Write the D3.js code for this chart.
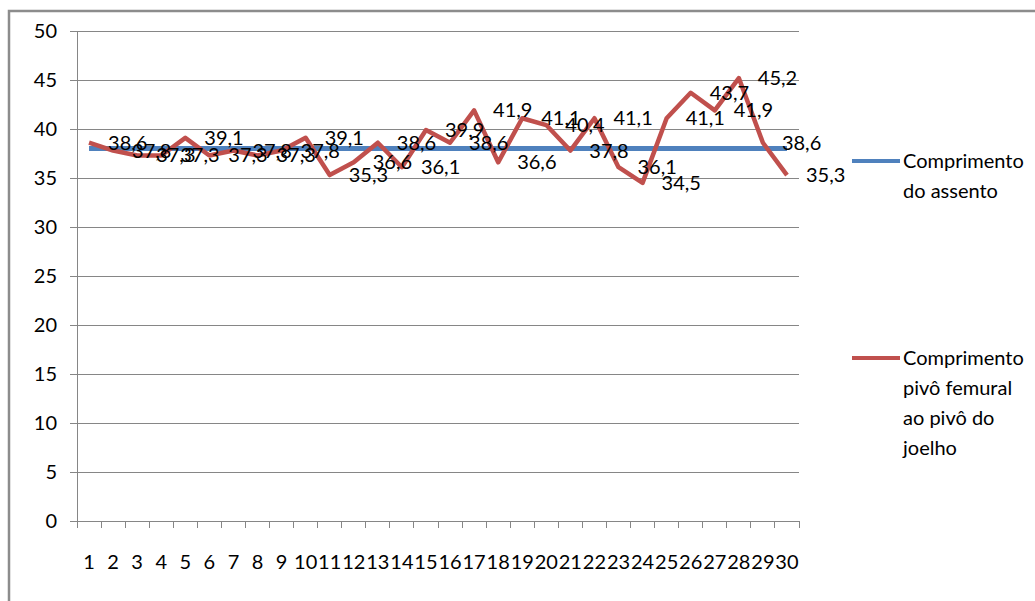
<!DOCTYPE html>
<html><head><meta charset="utf-8">
<script src="https://cdn.jsdelivr.net/npm/d3@7"></script>
<style>body{margin:0;background:#fff}svg{display:block}</style>
</head><body>
<script>
const categories = d3.range(1, 31).map(String);
const seriesNames = ["Comprimento do assento", "Comprimento pivô femural ao pivô do joelho"];
const assento = [38,38,38,38,38,38,38,38,38,38,38,38,38,38,38,38,38,38,38,38,38,38,38,38,38,38,38,38,38,38];
const femural = [38.6,37.8,37.3,37.3,39.1,37.3,37.8,37.3,37.8,39.1,35.3,36.6,38.6,36.1,39.9,38.6,41.9,36.6,41.1,40.4,37.8,41.1,36.1,34.5,41.1,43.7,41.9,45.2,38.6,35.3];
const yTicks = [0,5,10,15,20,25,30,35,40,45,50];
const legendLines = [["Comprimento","do assento"],["Comprimento","pivô femural","ao pivô do","joelho"]];
const colors = ["#4F81BD", "#C0504D"];

(function () {
const W = 1035, H = 601;
const svg = d3.select("body").append("svg").attr("width", W).attr("height", H);
const font = "Lato, 'Open Sans', sans-serif";

// outer border
svg.append("path").attr("d", `M9,${H} V11 H${W}`).attr("fill","none").attr("stroke","#8c8c8c").attr("stroke-width",2.5);

const pl = 77, pr = 799, pt = 31, pb = 521;
const x = d3.scaleBand().domain(categories).range([pl, pr]).padding(0);
const y = d3.scaleLinear().domain([0, 50]).range([pb, pt]);

// gridlines
svg.append("g").selectAll("line").data(yTicks.filter(d => d > 0)).join("line")
  .attr("x1", pl).attr("x2", pr).attr("y1", d => y(d)).attr("y2", d => y(d))
  .attr("stroke", "#868686").attr("stroke-width", 1).attr("shape-rendering","crispEdges");

// y axis
const ya = svg.append("g").attr("transform", `translate(${pl},0)`)
  .call(d3.axisLeft(y).tickValues(yTicks).tickSize(7).tickPadding(13).tickFormat(d3.format("d")));
ya.selectAll("path,line").attr("stroke","#868686").attr("shape-rendering","crispEdges");
ya.select(".domain").attr("d", `M0,${pt}V${pb}`);
ya.selectAll("text").attr("font-family", font).attr("font-size", 20).attr("fill","#000");

// x axis
const xa = svg.append("g").attr("transform", `translate(0,${pb})`)
  .call(d3.axisBottom(x).tickSize(0).tickPadding(34));
xa.selectAll("path").attr("stroke","#868686").attr("shape-rendering","crispEdges");
xa.select(".domain").attr("d", `M${pl},0H${pr}`);
xa.selectAll("text").attr("font-family", font).attr("font-size", 20).attr("fill","#000");
// category boundary tick marks
svg.append("g").selectAll("line").data(d3.range(0, categories.length + 1)).join("line")
  .attr("x1", i => pl + i * x.bandwidth()).attr("x2", i => pl + i * x.bandwidth())
  .attr("y1", pb).attr("y2", pb + 7)
  .attr("stroke","#868686").attr("shape-rendering","crispEdges");

const cx = c => x(c) + x.bandwidth() / 2;
const line = d3.line().x((d, i) => cx(categories[i])).y(d => y(d));

svg.append("path").datum(assento).attr("d", line).attr("fill","none")
  .attr("stroke", colors[0]).attr("stroke-width", 5);
svg.append("path").datum(femural).attr("d", line).attr("fill","none")
  .attr("stroke", colors[1]).attr("stroke-width", 4.5).attr("stroke-linejoin","round");

// data labels
const fmt = v => d3.format(".1f")(v).replace(".", ",");
svg.append("g").selectAll("text").data(femural).join("text")
  .attr("x", (d, i) => cx(categories[i]) + 19).attr("y", d => y(d))
  .attr("dy", "0.35em").attr("font-family", font).attr("font-size", 20).attr("fill","#000")
  .text(fmt);

// legend
const legY = [161, 358];
legendLines.forEach((lines, k) => {
  const g = svg.append("g");
  g.append("line").attr("x1", 852).attr("x2", 900).attr("y1", legY[k]).attr("y2", legY[k])
    .attr("stroke", colors[k]).attr("stroke-width", 4);
  g.append("text").attr("font-family", font).attr("font-size", 20).attr("fill","#000")
    .selectAll("tspan").data(lines).join("tspan")
    .attr("x", 903).attr("y", (d, i) => legY[k] + i * 30).attr("dy","0.35em").text(d => d);
});
})();
</script>
</body></html>
